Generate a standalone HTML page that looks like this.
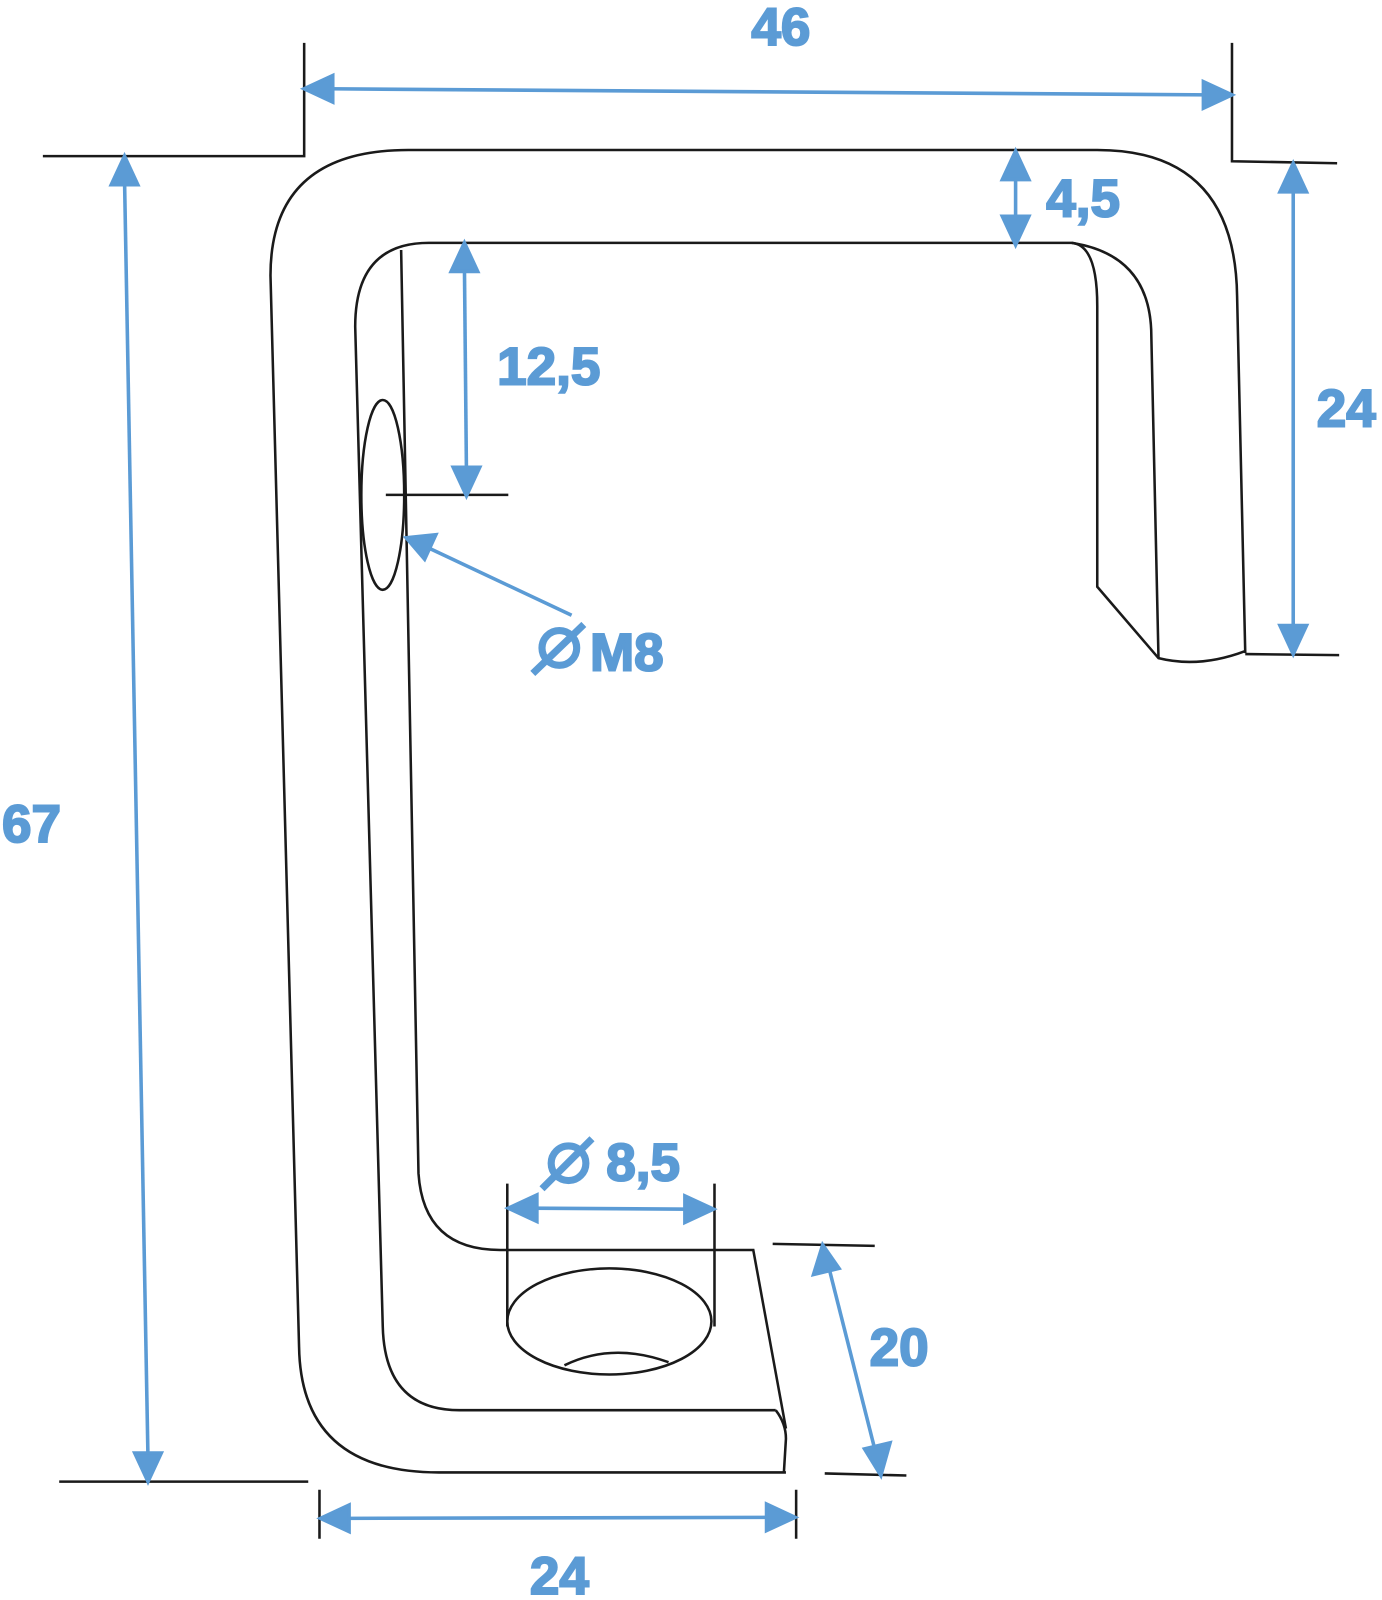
<!DOCTYPE html>
<html><head><style>
html,body{margin:0;padding:0;background:#fff;}
svg{display:block;}
text{font-family:"Liberation Sans",sans-serif;font-weight:bold;fill:#5b9bd5;stroke:#5b9bd5;stroke-width:2;}
</style></head><body>
<svg width="1382" height="1600" viewBox="0 0 1382 1600" xmlns="http://www.w3.org/2000/svg">
<g transform="scale(1.0207,1.0204)">
<g fill="none" stroke="#1a1a1a" stroke-width="2.5">
<path d="M770,1443 L430,1443 Q295,1443 293,1320 L265,270 Q265,147 400,147 L1075,147 Q1210,147 1212,290 L1220,640"/>
<path d="M760,1382 L450,1382 Q377,1382 375,1300 L348,320 Q348,238 420,238 L1050,238 Q1075,240 1075,300 L1075,575 L1135,645 Q1175,655 1220,638"/>
<path d="M1050,238 Q1128,250 1128,330 L1135,645"/>
<path d="M760,1382 Q770,1395 770,1410 L768,1443"/>
<path d="M393,245 L410,1150 Q415,1225 490,1225 L738,1225 L770,1400"/>
<ellipse cx="375" cy="485" rx="21" ry="93"/>
<ellipse cx="597" cy="1295" rx="100" ry="52"/>
<path d="M553,1338 Q600,1315 655,1335"/>
<path d="M497,1160 L497,1300 M700,1160 L700,1300"/>
<path d="M298,42 L298,153 L42,153"/>
<path d="M1207,42 L1207,158 L1310,160"/>
<path d="M1220,641 L1312,642"/>
<path d="M378,485 L498,485"/>
<path d="M757,1219 L857,1221"/>
<path d="M808,1444 L888,1446"/>
<path d="M58,1452 L302,1452"/>
<path d="M313,1460 L313,1508 M780,1460 L780,1508"/>
</g>
<g stroke="#5b9bd5" stroke-width="3.5" fill="#5b9bd5">
<line x1="320" y1="87" x2="1185" y2="93"/>
<polygon points="298,87 326,74 326,100"/><polygon points="1207,93 1179,80 1179,106"/>
<line x1="122" y1="176" x2="145" y2="1430"/>
<polygon points="122,153 109,181 135,181"/><polygon points="145,1452 132,1424 158,1424"/>
<line x1="1267" y1="182" x2="1267" y2="620"/>
<polygon points="1267,160 1254,188 1280,188"/><polygon points="1267,641 1254,613 1280,613"/>
<line x1="995" y1="170" x2="995" y2="218"/>
<polygon points="995,148 982,176 1008,176"/><polygon points="995,240 982,212 1008,212"/>
<line x1="455" y1="260" x2="457" y2="464"/>
<polygon points="455,238 442,266 468,266"/><polygon points="457,486 444,458 470,458"/>
<line x1="420" y1="537" x2="560" y2="603"/>
<polygon points="398,527 427,524 416,548"/>
<line x1="520" y1="1184" x2="677" y2="1185"/>
<polygon points="498,1184 526,1171 526,1197"/><polygon points="699,1185 671,1172 671,1198"/>
<line x1="812" y1="1242" x2="858" y2="1424"/>
<polygon points="806,1220 797,1249 822,1243"/><polygon points="863,1446 847,1420 872,1414"/>
<line x1="336" y1="1488" x2="757" y2="1487"/>
<polygon points="314,1488 342,1475 342,1501"/><polygon points="779,1487 751,1474 751,1500"/>
</g>
<text x="765" y="44" font-size="52" text-anchor="middle">46</text>
<text x="1025" y="212" font-size="52">4,5</text>
<text x="487" y="377" font-size="52">12,5</text>
<text x="1290" y="418" font-size="52">24</text>
<text x="2" y="825" font-size="52">67</text>
<text x="578" y="657" font-size="52">M8</text>
<g stroke="#5b9bd5" stroke-width="7" fill="none"><circle cx="548" cy="635" r="17"/><line x1="522" y1="660" x2="572" y2="612"/></g>
<text x="594" y="1157" font-size="52">8,5</text>
<g stroke="#5b9bd5" stroke-width="7" fill="none"><circle cx="557" cy="1140" r="17"/><line x1="531" y1="1165" x2="580" y2="1116"/></g>
<text x="852" y="1338" font-size="52">20</text>
<text x="548" y="1562" font-size="52" text-anchor="middle">24</text>
</g>
</svg>
</body></html>
